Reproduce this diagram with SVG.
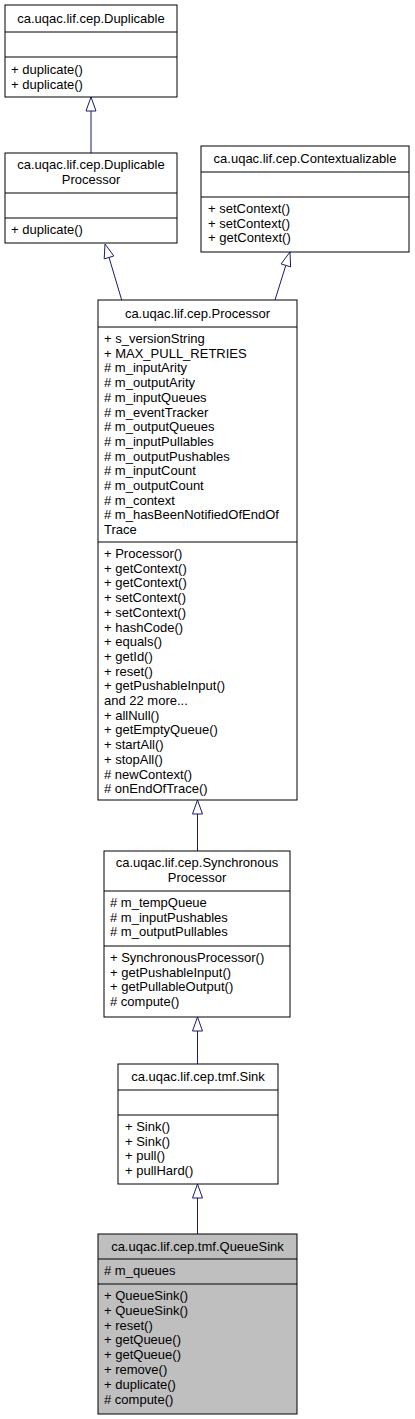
<svg xmlns="http://www.w3.org/2000/svg" width="415" height="1419" viewBox="0 0 415 1419">
<style>
.box{fill:#ffffff;stroke:#000000;stroke-width:1}
.hl{fill:#bfbfbf;stroke:#000000;stroke-width:1}
.sep{stroke:#000000;stroke-width:1}
text{font-family:"Liberation Sans",Arial,sans-serif;font-size:13px;fill:#000000}
.t{text-anchor:middle}
.edge{stroke:#191970;stroke-width:1;fill:none}
.head{stroke:#191970;stroke-width:1;fill:#ffffff}
</style>
<rect width="415" height="1419" fill="#ffffff"/>
<g id="edges">
<line class="edge" x1="91" y1="153" x2="91" y2="111"/>
<polygon class="head" points="91,97 86,111 96,111"/>
<line class="edge" x1="121.7" y1="300" x2="109" y2="257.4"/>
<polygon class="head" points="105,244 113.8,256 104.2,258.9"/>
<line class="edge" x1="275" y1="300" x2="285.8" y2="265.4"/>
<polygon class="head" points="290,252 290.6,266.9 281.1,263.9"/>
<line class="edge" x1="197.5" y1="851" x2="197.5" y2="814"/>
<polygon class="head" points="197.5,800 192.5,814 202.5,814"/>
<line class="edge" x1="197.5" y1="1064" x2="197.5" y2="1031"/>
<polygon class="head" points="197.5,1017 192.5,1031 202.5,1031"/>
<line class="edge" x1="197.5" y1="1234" x2="197.5" y2="1198"/>
<polygon class="head" points="197.5,1184 192.5,1198 202.5,1198"/>
</g>
<g id="Duplicable">
<rect class="box" x="5" y="5" width="172" height="92"/>
<line class="sep" x1="5" y1="32" x2="177" y2="32"/>
<line class="sep" x1="5" y1="57" x2="177" y2="57"/>
<text class="t" x="91" y="23">ca.uqac.lif.cep.Duplicable</text>
<text x="11" y="74">+ duplicate()</text>
<text x="11" y="88.7">+ duplicate()</text>
</g>
<g id="DuplicableProcessor">
<rect class="box" x="5" y="153" width="172" height="90"/>
<line class="sep" x1="5" y1="193" x2="177" y2="193"/>
<line class="sep" x1="5" y1="218" x2="177" y2="218"/>
<text class="t" x="91" y="169">ca.uqac.lif.cep.Duplicable</text>
<text class="t" x="91" y="183.7">Processor</text>
<text x="11" y="234">+ duplicate()</text>
</g>
<g id="Contextualizable">
<rect class="box" x="201" y="146" width="208" height="106"/>
<line class="sep" x1="201" y1="172" x2="409" y2="172"/>
<line class="sep" x1="201" y1="197" x2="409" y2="197"/>
<text class="t" x="305" y="163">ca.uqac.lif.cep.Contextualizable</text>
<text x="208" y="213">+ setContext()</text>
<text x="208" y="227.7">+ setContext()</text>
<text x="208" y="242.4">+ getContext()</text>
</g>
<g id="Processor">
<rect class="box" x="98" y="300" width="199" height="500"/>
<line class="sep" x1="98" y1="327" x2="297" y2="327"/>
<line class="sep" x1="98" y1="542" x2="297" y2="542"/>
<text class="t" x="197.5" y="318">ca.uqac.lif.cep.Processor</text>
<text x="104" y="343">+ s_versionString</text>
<text x="104" y="357.7">+ MAX_PULL_RETRIES</text>
<text x="104" y="372.4"># m_inputArity</text>
<text x="104" y="387.1"># m_outputArity</text>
<text x="104" y="401.8"># m_inputQueues</text>
<text x="104" y="416.5"># m_eventTracker</text>
<text x="104" y="431.2"># m_outputQueues</text>
<text x="104" y="445.9"># m_inputPullables</text>
<text x="104" y="460.6"># m_outputPushables</text>
<text x="104" y="475.3"># m_inputCount</text>
<text x="104" y="490"># m_outputCount</text>
<text x="104" y="504.7"># m_context</text>
<text x="104" y="519.4"># m_hasBeenNotifiedOfEndOf</text>
<text x="104" y="534.1">Trace</text>
<text x="104" y="558">+ Processor()</text>
<text x="104" y="572.7">+ getContext()</text>
<text x="104" y="587.4">+ getContext()</text>
<text x="104" y="602.1">+ setContext()</text>
<text x="104" y="616.8">+ setContext()</text>
<text x="104" y="631.5">+ hashCode()</text>
<text x="104" y="646.2">+ equals()</text>
<text x="104" y="660.9">+ getId()</text>
<text x="104" y="675.6">+ reset()</text>
<text x="104" y="690.3">+ getPushableInput()</text>
<text x="104" y="705">and 22 more...</text>
<text x="104" y="719.7">+ allNull()</text>
<text x="104" y="734.4">+ getEmptyQueue()</text>
<text x="104" y="749.1">+ startAll()</text>
<text x="104" y="763.8">+ stopAll()</text>
<text x="104" y="778.5"># newContext()</text>
<text x="104" y="793.2"># onEndOfTrace()</text>
</g>
<g id="SynchronousProcessor">
<rect class="box" x="104" y="851" width="186" height="166"/>
<line class="sep" x1="104" y1="891" x2="290" y2="891"/>
<line class="sep" x1="104" y1="946" x2="290" y2="946"/>
<text class="t" x="197" y="867">ca.uqac.lif.cep.Synchronous</text>
<text class="t" x="197" y="881.7">Processor</text>
<text x="110" y="907"># m_tempQueue</text>
<text x="110" y="921.7"># m_inputPushables</text>
<text x="110" y="936.4"># m_outputPullables</text>
<text x="110" y="962">+ SynchronousProcessor()</text>
<text x="110" y="976.7">+ getPushableInput()</text>
<text x="110" y="991.4">+ getPullableOutput()</text>
<text x="110" y="1006.1"># compute()</text>
</g>
<g id="Sink">
<rect class="box" x="118" y="1064" width="160" height="120"/>
<line class="sep" x1="118" y1="1090" x2="278" y2="1090"/>
<line class="sep" x1="118" y1="1115" x2="278" y2="1115"/>
<text class="t" x="198" y="1081">ca.uqac.lif.cep.tmf.Sink</text>
<text x="125" y="1131">+ Sink()</text>
<text x="125" y="1145.7">+ Sink()</text>
<text x="125" y="1160.4">+ pull()</text>
<text x="125" y="1175.1">+ pullHard()</text>
</g>
<g id="QueueSink">
<rect class="hl" x="98" y="1234" width="199" height="180"/>
<line class="sep" x1="98" y1="1259" x2="297" y2="1259"/>
<line class="sep" x1="98" y1="1284" x2="297" y2="1284"/>
<text class="t" x="197.5" y="1251">ca.uqac.lif.cep.tmf.QueueSink</text>
<text x="104" y="1275"># m_queues</text>
<text x="104" y="1300">+ QueueSink()</text>
<text x="104" y="1314.8">+ QueueSink()</text>
<text x="104" y="1329.6">+ reset()</text>
<text x="104" y="1344.4">+ getQueue()</text>
<text x="104" y="1359.2">+ getQueue()</text>
<text x="104" y="1374">+ remove()</text>
<text x="104" y="1388.8">+ duplicate()</text>
<text x="104" y="1403.6"># compute()</text>
</g>
</svg>
